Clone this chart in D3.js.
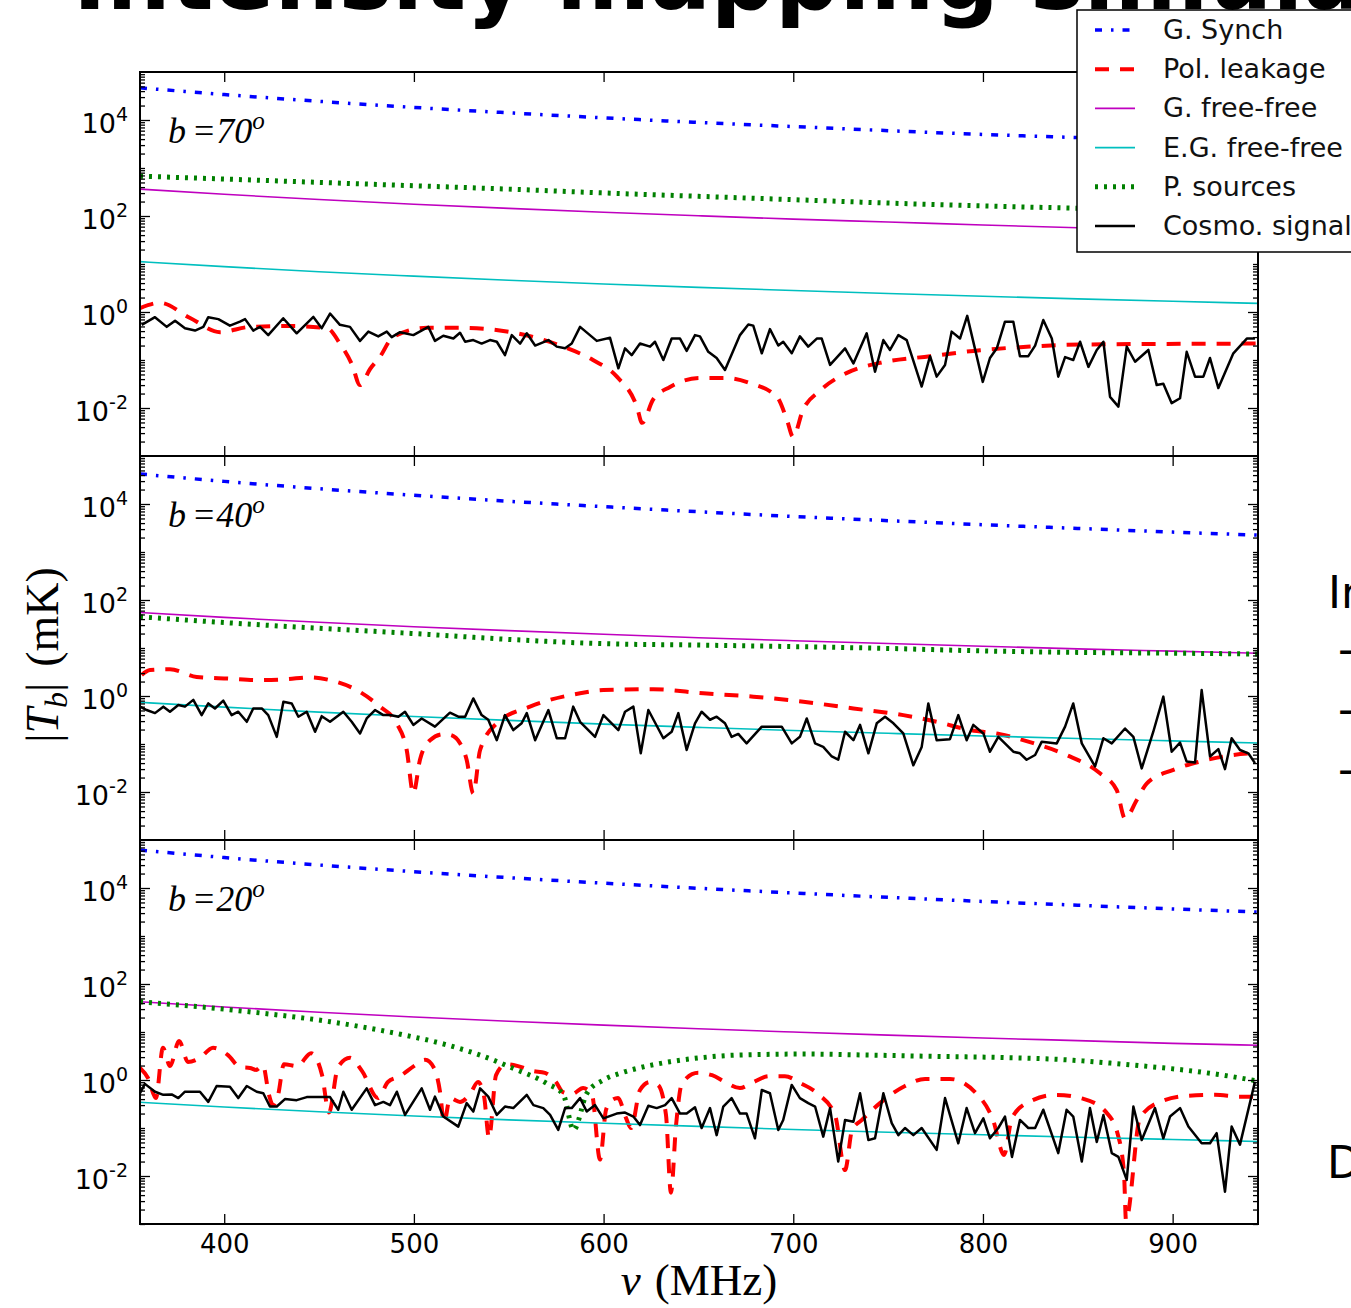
<!DOCTYPE html>
<html>
<head>
<meta charset="utf-8">
<script src="https://cdn.jsdelivr.net/npm/d3@7"></script>
<style>
  body { margin: 0; background: #fff; }
  svg { display: block; }
</style>
</head>
<body>
<svg id="chart" width="1351" height="1308"></svg>
<script>
// ---- data (T in mK, frequency in MHz) ----
const panelNames = ["70", "40", "20"];
const xTicks = [400, 500, 600, 700, 800, 900];
const yTickExps = [-2, 0, 2, 4];

// smooth foregrounds share one frequency grid
const smoothFreq = [355.6, 400, 450, 500, 550, 600, 650, 700, 750, 800, 850, 900, 945];

const synch70 = [46800, 33900, 24500, 18300, 14100, 11100, 8900, 7300, 6000, 5000, 4300, 3600, 3200];
const synch40 = [42200, 29600, 20800, 15200, 11400, 8800, 6900, 5500, 4500, 3700, 3100, 2600, 2250];
const synch20 = [61700, 43100, 30100, 21900, 16400, 12600, 9860, 7870, 6380, 5250, 4370, 3660, 3160];

const gff70 = [363, 283, 220, 176, 144, 120, 101, 86, 75, 65, 57, 51, 46];
const gff40 = [55, 43.4, 34.3, 27.8, 23.0, 19.3, 16.4, 14.2, 12.4, 10.9, 9.6, 8.6, 7.8];
const gff20 = [42.7, 33.2, 25.8, 20.6, 16.8, 13.9, 11.7, 10.0, 8.6, 7.5, 6.6, 5.8, 5.3];

const egff70 = [11.2, 8.8, 6.9, 5.6, 4.6, 3.84, 3.26, 2.80, 2.43, 2.13, 1.88, 1.67, 1.51];
const egff40 = [0.74, 0.586, 0.462, 0.375, 0.31, 0.26, 0.222, 0.191, 0.167, 0.147, 0.130, 0.116, 0.105];
const egff20 = [0.343, 0.273, 0.218, 0.178, 0.148, 0.126, 0.108, 0.0933, 0.0818, 0.0723, 0.0643, 0.0577, 0.0525];

const ps70 = [676, 589, 501, 427, 363, 302, 257, 219, 186, 162, 145, 129, 117];
const ps40 = [44.7, 33.9, 25.7, 20.0, 15.1, 12.3, 11.5, 10.7, 9.8, 8.7, 8.1, 7.8, 7.5];
const ps20Freq = [355.6, 385.5, 420.6, 455.8, 491, 517.3, 534.9, 552.5, 570, 578.8, 584.2, 591.1, 599.9, 608.7,
  617.5, 635, 652.6, 670.2, 705.3, 740.5, 775.6, 808, 844.1, 879.3, 905.6, 923.2, 945];
const ps20 = [42.7, 33.9, 24.5, 16.4, 9.3, 5.4, 3.3, 1.74, 0.85, 0.49, 0.091, 0.52, 1.0, 1.38,
  1.74, 2.4, 2.95, 3.3, 3.47, 3.3, 3.1, 2.95, 2.63, 2.04, 1.62, 1.32, 0.95];

// polarisation leakage
const pol70Freq = [355.6, 366.1, 382, 397.8, 413.6, 434.7, 454.2, 461, 467.4, 471.6, 476.9, 482, 489, 507, 524.3,
  554.4, 578.6, 594.4, 607, 617.6, 620.3, 626, 635, 650.8, 665, 677.2, 691.4, 696.7, 699.9, 705.1, 714.1,
  728.3, 745.7, 772.1, 798.5, 824.8, 851.2, 945];
const pol70 = [1.2, 1.55, 0.75, 0.38, 0.49, 0.51, 0.46, 0.22, 0.08, 0.03, 0.065, 0.115, 0.30, 0.47, 0.47,
  0.36, 0.19, 0.10, 0.045, 0.0105, 0.0049, 0.0148, 0.0275, 0.042, 0.042, 0.033, 0.017, 0.0056, 0.0025, 0.0091, 0.023,
  0.054, 0.087, 0.12, 0.16, 0.19, 0.21, 0.22];

const pol40Freq = [356.5, 360.9, 371.4, 385.5, 403, 417.1, 432.9, 445.2, 455.8, 469.8, 482.1, 490.9, 496.2, 499.7,
  503.2, 508.5, 515.5, 519, 524.3, 527.8, 531.3, 534.9, 543.7, 561.2, 587.6, 599.9, 626.2, 652.6, 679, 705.3,
  731.7, 758, 775.6, 793.2, 809, 826.6, 844.1, 861.7, 870.5, 874.9, 881.1, 886.3, 900.4, 914.4, 932, 945];
const pol40 = [2.75, 3.47, 3.6, 2.5, 2.3, 2.14, 2.24, 2.45, 2.14, 1.33, 0.60, 0.27, 0.075, 0.0093,
  0.047, 0.12, 0.16, 0.155, 0.104, 0.047, 0.0093, 0.075, 0.27, 0.60, 1.14, 1.33, 1.38, 1.14, 0.97, 0.76,
  0.55, 0.40, 0.29, 0.195, 0.16, 0.104, 0.059, 0.0245, 0.011, 0.0028, 0.0068, 0.015, 0.029, 0.043, 0.059, 0.065];

const pol20Freq = [355.6, 359.8, 364.0, 367.7, 371.4, 376.2, 380.9, 387.2, 394.1, 402.0, 408.3, 413.6, 416.8, 420.4,
  423.6, 425.7, 428.4, 431.5, 438.4, 445.8, 451.6, 455.2, 460.0, 466.3, 472.6, 481.1, 486.3, 492.7, 500.0, 505.9,
  510.6, 513.8, 515.9, 519.0, 524.3, 529.6, 533.8, 537.0, 539.6, 543.3, 548.6, 554.9, 562.3, 569.1, 574.9, 578.6,
  583.4, 589.2, 593.9, 598.1, 601.3, 604.4, 607.6, 611.8, 614.5, 619.2, 624.5, 628.7, 632.9, 635.5, 638.2, 641.4,
  649.8, 657.2, 664.0, 671.9, 678.2, 687.2, 695.6, 703.6, 713.1, 722.0, 727.3, 731.0, 736.2, 745.7, 758.9, 769.5,
  782.6, 795.8, 805.3, 811.1, 815.3, 824.3, 838.5, 853.3, 864.9, 871.2, 874.4, 875.4, 882.8, 893.3, 908.1, 922.3,
  935.5, 945.0];
const pol20 = [1.78, 1.10, 0.42, 4.7, 1.95, 6.5, 2.37, 2.9, 4.7, 3.3, 1.86, 1.78, 1.62, 2.04,
  0.49, 0.30, 0.49, 2.14, 1.95, 3.6, 1.26, 0.21, 1.86, 2.9, 1.55, 0.42, 0.91, 1.20, 1.95, 2.63,
  1.78, 0.56, 0.126, 0.42, 0.35, 0.51, 0.91, 0.45, 0.063, 1.26, 2.14, 1.95, 1.55, 1.41, 0.91, 0.56,
  0.51, 0.68, 0.49, 0.022, 0.24, 0.38, 0.42, 0.162, 0.10, 0.62, 0.91, 0.79, 0.186, 0.0045, 0.115, 0.87,
  1.41, 1.26, 0.91, 0.68, 0.87, 1.20, 1.20, 0.87, 0.51, 0.186, 0.0133, 0.091, 0.148, 0.33, 0.75, 1.05,
  1.05, 0.56, 0.148, 0.0275, 0.162, 0.35, 0.49, 0.40, 0.214, 0.071, 0.0105, 0.0012, 0.162, 0.35, 0.47, 0.49,
  0.45, 0.45];

// cosmological signal
const cosmo70Freq = [356.5, 363.5, 369.7, 374.1, 379.3, 384.6, 389, 391.6, 396.9, 403, 408.3, 411, 415.3, 418.9,
  423.2, 431.1, 438.2, 447, 451.4, 455.8, 461, 466.3, 471.6, 476, 481.2, 485.7, 488.3, 492.7, 499.7, 507.6, 511.1,
  515.5, 520.8, 524.3, 527, 531.3, 535.7, 540.1, 543.7, 548, 551.6, 556, 559.5, 563.9, 570.9, 575.3, 579.7, 583.2,
  587.6, 596.4, 603.4, 607.8, 611.3, 614.8, 619.2, 624.5, 627.1, 631.5, 635.9, 640.3, 643.8, 648.2, 650.8, 655.2,
  659.6, 664, 671.9, 676.3, 678.9, 683.4, 687.7, 692.1, 694.7, 699.2, 703.5, 707.9, 712.4, 715, 719.4, 727.3, 731.7,
  738.7, 743.1, 747.5, 751, 755.4, 759.8, 767.7, 772.1, 775.6, 780, 783.5, 787.9, 791.7, 799.9, 803.7, 807.3, 811.6,
  816, 819.5, 823.9, 827.5, 831.8, 836.3, 839.7, 843.3, 847.6, 851.2, 855.6, 860, 863.5, 867, 871.4, 875.8, 880.2,
  887.2, 891.6, 895.1, 899.5, 903.9, 907.4, 911.8, 916.2, 919.7, 924.1, 932, 939.1, 943.4];
const cosmo70 = [0.54, 0.78, 0.49, 0.66, 0.46, 0.41, 0.49, 0.78, 0.71, 0.52, 0.63, 0.71, 0.41, 0.49,
  0.33, 0.74, 0.36, 0.79, 0.46, 0.93, 0.54, 0.49, 0.25, 0.39, 0.31, 0.39, 0.30, 0.38, 0.33, 0.49, 0.25,
  0.32, 0.28, 0.37, 0.24, 0.26, 0.22, 0.26, 0.24, 0.126, 0.33, 0.22, 0.36, 0.20, 0.26, 0.19, 0.175, 0.22,
  0.49, 0.25, 0.29, 0.067, 0.175, 0.126, 0.22, 0.19, 0.24, 0.10, 0.28, 0.28, 0.155, 0.33, 0.31, 0.148,
  0.11, 0.062, 0.33, 0.55, 0.52, 0.138, 0.44, 0.20, 0.24, 0.138, 0.31, 0.19, 0.28, 0.28, 0.079, 0.175, 0.085,
  0.36, 0.057, 0.26, 0.162, 0.33, 0.26, 0.028, 0.12, 0.045, 0.079, 0.39, 0.28, 0.83, 0.035, 0.11, 0.175, 0.63,
  0.63, 0.12, 0.12, 0.20, 0.68, 0.28, 0.045, 0.115, 0.10, 0.24, 0.072, 0.162, 0.24, 0.017, 0.0107, 0.19, 0.092,
  0.162, 0.030, 0.032, 0.0126, 0.016, 0.148, 0.045, 0.045, 0.11, 0.026, 0.138, 0.28, 0.28];

const cosmo40Freq = [355.6, 359.1, 363.5, 367.9, 371.4, 375.8, 379.3, 383.7, 388.1, 391.6,
  395.1, 399.5, 403.9, 407.4, 411.9, 415.3, 419.8, 423.2, 427.7, 431.2,
  435.6, 439.1, 443.5, 447.9, 451.4, 455.8, 462.8, 467.2, 471.6, 475.1,
  479.5, 483.9, 487.4, 491.8, 495.3, 499.7, 504.1, 511.1, 519, 523.4,
  527, 531.3, 535.7, 539.2, 543.7, 548, 552.4, 556.8, 559.5, 563.9,
  570.9, 575.3, 579.7, 584, 587.6, 595.5, 599.9, 607.8, 611.3, 615.7,
  619.6, 623.6, 631.5, 635.9, 639.4, 643.8, 648.2, 651.7, 656.1, 659.6,
  664, 667.5, 671, 675.4, 683.4, 693.9, 699.2, 703.5, 707.1, 711.5,
  715.8, 720.3, 723.7, 727.3, 731.7, 735.2, 739.6, 744, 748.4, 752.8,
  758, 763.3, 767.7, 771.2, 775.6, 782.6, 787, 791.4, 794.9, 800.2,
  803.7, 808.1, 816, 819.5, 823, 827.5, 831, 838.9, 843.3, 847.6,
  852.1, 859.1, 863.5, 867.9, 874.9, 879.3, 883.7, 889.8, 895.1, 899.5,
  903.9, 907.4, 911.8, 915.3, 919.7, 924.1, 927.6, 931.1, 935.5, 939.9, 943.4];
const cosmo40 = [0.60, 0.51, 0.44, 0.60, 0.47, 0.65, 0.60, 0.83, 0.40, 0.70,
  0.55, 0.80, 0.40, 0.47, 0.29, 0.55, 0.55, 0.40, 0.141, 0.76,
  0.70, 0.37, 0.47, 0.18, 0.38, 0.29, 0.47, 0.29, 0.166, 0.34,
  0.51, 0.40, 0.40, 0.37, 0.47, 0.25, 0.34, 0.23, 0.45, 0.37,
  0.37, 0.89, 0.40, 0.32, 0.12, 0.40, 0.195, 0.27, 0.44, 0.12,
  0.51, 0.132, 0.132, 0.60, 0.29, 0.141, 0.40, 0.195, 0.47, 0.60,
  0.064, 0.51, 0.132, 0.18, 0.44, 0.075, 0.27, 0.47, 0.32, 0.37,
  0.27, 0.141, 0.162, 0.103, 0.23, 0.23, 0.103, 0.141, 0.34, 0.103,
  0.087, 0.055, 0.047, 0.18, 0.12, 0.25, 0.064, 0.27, 0.37, 0.27,
  0.166, 0.036, 0.087, 0.70, 0.12, 0.126, 0.40, 0.12, 0.25, 0.166,
  0.069, 0.141, 0.069, 0.064, 0.047, 0.059, 0.112, 0.103, 0.23, 0.70,
  0.103, 0.034, 0.132, 0.103, 0.21, 0.141, 0.031, 0.18, 0.97, 0.069,
  0.107, 0.043, 0.041, 1.33, 0.055, 0.078, 0.030, 0.132, 0.075, 0.064, 0.040];

const cosmo20Freq = [355.6, 358.2, 363.5, 367.9, 372.3, 375.8, 379.3, 387.2, 391.6, 396,
  403, 407.4, 411.9, 417.1, 420.6, 424.1, 427.7, 432, 438.2, 443.5,
  455.8, 460.1, 462.8, 467.2, 475.1, 479.5, 483.9, 487.4, 491, 495.3,
  504.1, 508.5, 511.1, 515.5, 523.4, 527.8, 531.3, 534.9, 539.2, 543.7,
  548, 552.4, 559.5, 563, 568.2, 571.8, 576.1, 579.7, 583.2, 587.6,
  591.1, 595.5, 599.9, 606.9, 611.3, 615.7, 619.2, 623.6, 628, 632.4,
  635.9, 640.3, 643.8, 648.2, 651.7, 656.1, 659.6, 663.1, 667.5, 671.9,
  675.4, 679.8, 683.4, 687.7, 692.1, 694.7, 699.2, 703.5, 707.9, 711.5,
  715.8, 719.4, 723.7, 727.3, 731.7, 735.2, 739.6, 743.1, 747.5, 751.9,
  755.4, 758.9, 763.3, 767.7, 775.6, 780, 787, 791.4, 795.8, 800.2,
  803.7, 808.1, 811.6, 815.3, 819.5, 823.9, 827.5, 831.8, 839.7, 844.1,
  847.6, 852.1, 856.4, 860, 863.5, 867.9, 871.4, 875.8, 879.3, 883.7,
  890.7, 895.1, 898.6, 903.9, 908.3, 915.3, 919.7, 923.2, 927.6, 931.1,
  935.5, 943.4];
const cosmo20 = [0.53, 0.83, 0.57, 0.49, 0.50, 0.42, 0.57, 0.57, 0.35, 0.75,
  0.72, 0.42, 0.75, 0.57, 0.53, 0.28, 0.28, 0.40, 0.38, 0.44,
  0.44, 0.24, 0.57, 0.24, 0.67, 0.30, 0.35, 0.30, 0.57, 0.187,
  0.67, 0.24, 0.45, 0.173, 0.107, 0.33, 0.22, 0.67, 0.45, 0.187,
  0.28, 0.26, 0.49, 0.30, 0.26, 0.187, 0.091, 0.26, 0.26, 0.42,
  0.22, 0.30, 0.159, 0.20, 0.21, 0.173, 0.115, 0.29, 0.26, 0.30,
  0.42, 0.20, 0.20, 0.27, 0.10, 0.26, 0.071, 0.28, 0.42, 0.20,
  0.20, 0.061, 0.62, 0.53, 0.091, 0.147, 0.79, 0.42, 0.33, 0.28,
  0.066, 0.26, 0.020, 0.147, 0.135, 0.53, 0.056, 0.061, 0.53, 0.126,
  0.071, 0.10, 0.071, 0.10, 0.035, 0.42, 0.048, 0.26, 0.078, 0.159,
  0.061, 0.10, 0.173, 0.025, 0.147, 0.10, 0.10, 0.24, 0.030, 0.24,
  0.173, 0.020, 0.26, 0.051, 0.187, 0.030, 0.025, 0.0083, 0.28, 0.056,
  0.26, 0.061, 0.173, 0.26, 0.107, 0.048, 0.048, 0.078, 0.0047, 0.107,
  0.045, 0.92];

// ---- layout ----
const svg = d3.select("#chart");
const left = 140, right = 1258, panelH = 384;
const panelTops = [72, 456, 840];

const styles = {
  synch: { color: "#0000ff", width: 3.5, dash: "7,9,2.5,9" },
  pol:   { color: "#ff0000", width: 4, dash: "14,11" },
  gff:   { color: "#bf00bf", width: 1.6, dash: null },
  egff:  { color: "#00bfbf", width: 1.6, dash: null },
  ps:    { color: "#008000", width: 5, dash: "3,6" },
  cosmo: { color: "#000000", width: 2.5, dash: null }
};

const panels = [
  { synch: synch70, gff: gff70, egff: egff70, ps: [smoothFreq, ps70], pol: [pol70Freq, pol70], cosmo: [cosmo70Freq, cosmo70] },
  { synch: synch40, gff: gff40, egff: egff40, ps: [smoothFreq, ps40], pol: [pol40Freq, pol40], cosmo: [cosmo40Freq, cosmo40] },
  { synch: synch20, gff: gff20, egff: egff20, ps: [ps20Freq, ps20], pol: [pol20Freq, pol20], cosmo: [cosmo20Freq, cosmo20] }
];

const x = d3.scaleLinear().domain([355.6, 945]).range([left, right]);

// minor log ticks (odd decades count as minor)
const minorY = [];
for (let k = -3; k <= 4; k++) {
  for (let m = 1; m <= 9; m++) {
    if (m === 1 && k % 2 === 0) continue;
    minorY.push(m * Math.pow(10, k));
  }
}
const majorY = yTickExps.map(e => Math.pow(10, e));

// title (cut off by the top of the slide)
svg.append("text")
  .attr("x", 73)
  .attr("y", 9)
  .style("font-family", "DejaVu Sans, sans-serif")
  .style("font-weight", "bold")
  .style("font-size", "90px")
  .text("Intensity mapping simulations");

panels.forEach((p, i) => {
  const top = panelTops[i];
  const y = d3.scaleLog().domain([1e-3, 1e5]).range([top + panelH, top]);

  svg.append("clipPath").attr("id", "clip" + i)
    .append("rect")
    .attr("x", left).attr("y", top)
    .attr("width", right - left).attr("height", panelH);

  const g = svg.append("g").attr("clip-path", `url(#clip${i})`);

  const series = [
    ["synch", d3.zip(smoothFreq, p.synch), d3.curveMonotoneX],
    ["pol", d3.zip(p.pol[0], p.pol[1]), d3.curveMonotoneX],
    ["gff", d3.zip(smoothFreq, p.gff), d3.curveMonotoneX],
    ["egff", d3.zip(smoothFreq, p.egff), d3.curveMonotoneX],
    ["ps", d3.zip(p.ps[0], p.ps[1]), d3.curveMonotoneX],
    ["cosmo", d3.zip(p.cosmo[0], p.cosmo[1]), d3.curveLinear]
  ];

  series.forEach(([key, data, curve]) => {
    const st = styles[key];
    const line = d3.line().x(d => x(d[0])).y(d => y(d[1])).curve(curve);
    g.append("path")
      .datum(data)
      .attr("fill", "none")
      .attr("stroke", st.color)
      .attr("stroke-width", st.width)
      .attr("stroke-dasharray", st.dash)
      .attr("stroke-linejoin", "round")
      .attr("d", line);
  });

  // axes, all ticks pointing inwards
  const tickStyle = sel => {
    sel.select(".domain").remove();
    sel.selectAll(".tick line").attr("stroke", "#000").attr("stroke-width", 1.3);
  };

  svg.append("g").attr("transform", `translate(0,${top + panelH})`)
    .call(d3.axisBottom(x).tickValues(xTicks).tickSize(-10).tickPadding(11)
      .tickFormat(i === 2 ? d3.format("d") : () => ""))
    .call(tickStyle)
    .call(s => s.selectAll("text")
      .attr("fill", "#000")
      .style("font-family", "DejaVu Sans, sans-serif")
      .style("font-size", "26px"));

  svg.append("g").attr("transform", `translate(0,${top})`)
    .call(d3.axisTop(x).tickValues(xTicks).tickSize(-10).tickFormat(() => ""))
    .call(tickStyle);

  svg.append("g").attr("transform", `translate(${left},0)`)
    .call(d3.axisLeft(y).tickValues(majorY).tickSize(-10).tickPadding(12).tickFormat(() => ""))
    .call(tickStyle)
    .call(s => s.selectAll(".tick text").each(function(d) {
      const t = d3.select(this)
        .attr("dy", 12)
        .attr("fill", "#000")
        .style("font-family", "DejaVu Sans, sans-serif")
        .style("font-size", "27px");
      t.append("tspan").text("10");
      t.append("tspan").attr("dy", -12).style("font-size", "19px").text(String(Math.round(Math.log10(d))));
    }));

  svg.append("g").attr("transform", `translate(${left},0)`)
    .call(d3.axisLeft(y).tickValues(minorY).tickSize(-5).tickFormat(() => ""))
    .call(tickStyle);

  svg.append("g").attr("transform", `translate(${right},0)`)
    .call(d3.axisRight(y).tickValues(majorY).tickSize(-10).tickFormat(() => ""))
    .call(tickStyle);

  svg.append("g").attr("transform", `translate(${right},0)`)
    .call(d3.axisRight(y).tickValues(minorY).tickSize(-5).tickFormat(() => ""))
    .call(tickStyle);

  svg.append("rect")
    .attr("x", left).attr("y", top)
    .attr("width", right - left).attr("height", panelH)
    .attr("fill", "none").attr("stroke", "#000").attr("stroke-width", 2);

  // panel label b = ..°
  const lab = svg.append("text")
    .attr("y", top + 71)
    .style("font-family", "Liberation Serif, serif")
    .style("font-size", "36px");
  lab.append("tspan").attr("x", 168).style("font-style", "italic").text("b");
  lab.append("tspan").attr("x", 194).text("=");
  lab.append("tspan").attr("dx", 2).style("font-style", "italic").text(panelNames[i]);
  lab.append("tspan").attr("dy", -14).style("font-style", "italic").style("font-size", "25px").text("o");
});

// axis labels
const xl = svg.append("text")
  .attr("x", 699).attr("y", 1295)
  .attr("text-anchor", "middle")
  .style("font-family", "Liberation Serif, serif")
  .style("font-size", "45px");
xl.append("tspan").style("font-style", "italic").text("ν");
xl.append("tspan").attr("dx", 14).text("(MHz)");

const yl = svg.append("text")
  .attr("transform", "translate(58,655) rotate(-90)")
  .attr("text-anchor", "middle")
  .style("font-family", "Liberation Serif, serif")
  .style("font-size", "46px");
yl.append("tspan").text("|");
yl.append("tspan").style("font-style", "italic").text("T");
yl.append("tspan").attr("dy", 9).style("font-style", "italic").style("font-size", "32px").text("b");
yl.append("tspan").attr("dy", -9).text("|");
yl.append("tspan").attr("dx", 16).text("(mK)");

// bits of slide text to the right of the figure
const slideFont = sel => sel.style("font-family", "DejaVu Sans, sans-serif").style("font-size", "44px").attr("fill", "#000");
svg.append("text").attr("x", 1328).attr("y", 608).text("In").call(slideFont);
[664, 724, 784].forEach(yy => svg.append("text").attr("x", 1338).attr("y", yy).text("-").call(slideFont));
svg.append("text").attr("x", 1327).attr("y", 1178).text("D").call(slideFont);

// legend
const legendItems = [
  ["synch", "G. Synch"],
  ["pol", "Pol. leakage"],
  ["gff", "G. free-free"],
  ["egff", "E.G. free-free"],
  ["ps", "P. sources"],
  ["cosmo", "Cosmo. signal"]
];
const lg = svg.append("g").attr("transform", "translate(1077,10)");
lg.append("rect")
  .attr("width", 300).attr("height", 242)
  .attr("fill", "#fff").attr("stroke", "#000").attr("stroke-width", 1.5);
legendItems.forEach(([key, name], k) => {
  const st = styles[key];
  const cy = 20 + k * 39.2;
  lg.append("line")
    .attr("x1", 18).attr("x2", 58).attr("y1", cy).attr("y2", cy)
    .attr("stroke", st.color)
    .attr("stroke-width", st.width)
    .attr("stroke-dasharray", st.dash);
  lg.append("text")
    .attr("x", 86).attr("y", cy + 9)
    .attr("fill", "#111")
    .style("font-family", "DejaVu Sans, sans-serif")
    .style("font-size", "27px")
    .text(name);
});
</script>
</body>
</html>
